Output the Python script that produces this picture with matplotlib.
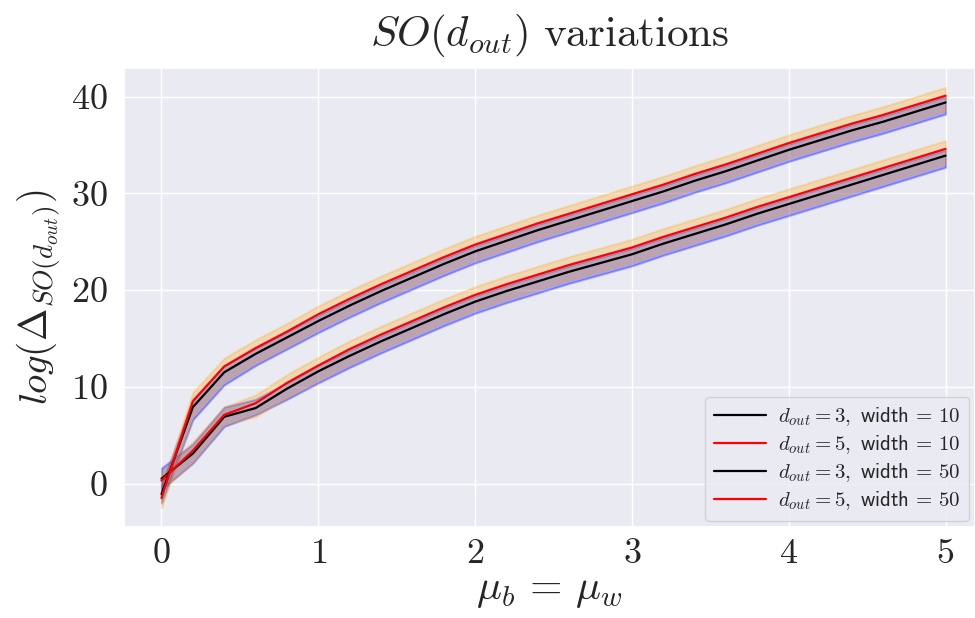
import numpy as np
import matplotlib
matplotlib.use("Agg")
import matplotlib.pyplot as plt
import seaborn as sns

sns.set_theme(style="darkgrid")
plt.rcParams['mathtext.fontset'] = 'cm'
plt.rcParams['font.family'] = ['cmr10', 'DejaVu Sans']
plt.rcParams['axes.formatter.use_mathtext'] = True

mu = [0.0, 0.2, 0.4, 0.6, 0.8, 1.0, 1.2, 1.4, 1.6, 1.8, 2.0, 2.2, 2.4,
      2.6, 2.8, 3.0, 3.2, 3.4, 3.6, 3.8, 4.0, 4.2, 4.4, 4.6, 4.8, 5.0]

# width = 10 (lower pair)
d3_w10 = [0.5, 3.1, 6.9, 7.8, 9.8, 11.6, 13.2, 14.7, 16.1, 17.5, 18.8, 19.9, 20.9,
          21.9, 22.8, 23.7, 24.8, 25.8, 26.8, 27.9, 28.9, 29.9, 30.9, 31.9, 32.9, 33.9]
d5_w10 = [0.3, 3.4, 7.1, 8.3, 10.4, 12.2, 13.9, 15.4, 16.8, 18.2, 19.5, 20.6, 21.6,
          22.6, 23.5, 24.4, 25.5, 26.5, 27.5, 28.6, 29.6, 30.6, 31.6, 32.6, 33.6, 34.6]
# width = 50 (upper pair)
d3_w50 = [-1.1, 7.9, 11.5, 13.4, 15.1, 16.8, 18.4, 19.9, 21.3, 22.7, 24.0, 25.1, 26.2,
          27.2, 28.2, 29.2, 30.2, 31.3, 32.3, 33.4, 34.5, 35.5, 36.5, 37.4, 38.4, 39.4]
d5_w50 = [-1.5, 8.5, 12.1, 14.0, 15.7, 17.5, 19.1, 20.6, 22.0, 23.4, 24.7, 25.8, 26.9,
          27.9, 28.9, 29.9, 30.9, 32.0, 33.0, 34.1, 35.2, 36.2, 37.2, 38.1, 39.1, 40.1]

# spread below / above each mean curve
lo_d3_w10 = [1.1, 1.0, 1.0, 0.7, 1.1, 1.2, 1.2, 1.2, 1.2, 1.2, 1.2, 1.2, 1.2,
             1.2, 1.2, 1.2, 1.2, 1.2, 1.2, 1.2, 1.2, 1.2, 1.2, 1.2, 1.2, 1.2]
hi_d3_w10 = [1.1, 1.0, 1.0, 0.9, 0.6, 0.6, 0.6, 0.6, 0.6, 0.6, 0.6, 0.6, 0.6,
             0.6, 0.6, 0.6, 0.6, 0.6, 0.6, 0.6, 0.6, 0.6, 0.6, 0.6, 0.6, 0.6]
lo_d5_w10 = [1.0, 1.2, 1.0, 1.4, 1.5, 1.5, 1.5, 1.5, 1.5, 1.5, 1.5, 1.5, 1.5,
             1.5, 1.5, 1.5, 1.5, 1.5, 1.5, 1.5, 1.5, 1.5, 1.5, 1.5, 1.5, 1.5]
hi_d5_w10 = [0.9, 0.9, 0.8, 0.85, 0.85, 0.85, 0.85, 0.85, 0.85, 0.85, 0.85, 0.85, 0.85,
             0.85, 0.85, 0.85, 0.85, 0.85, 0.85, 0.85, 0.85, 0.85, 0.85, 0.85, 0.85, 0.85]
lo_d3_w50 = [0.9, 1.3, 1.3, 1.2, 1.2, 1.2, 1.2, 1.2, 1.2, 1.2, 1.2, 1.2, 1.2,
             1.2, 1.2, 1.2, 1.2, 1.2, 1.2, 1.2, 1.2, 1.2, 1.2, 1.2, 1.2, 1.2]
hi_d3_w50 = [0.9, 0.8, 0.7, 0.6, 0.6, 0.6, 0.6, 0.6, 0.6, 0.6, 0.6, 0.6, 0.6,
             0.6, 0.6, 0.6, 0.6, 0.6, 0.6, 0.6, 0.6, 0.6, 0.6, 0.6, 0.6, 0.6]
lo_d5_w50 = [1.0, 1.5, 1.5, 1.5, 1.5, 1.5, 1.5, 1.5, 1.5, 1.5, 1.5, 1.5, 1.5,
             1.5, 1.5, 1.5, 1.5, 1.5, 1.5, 1.5, 1.5, 1.5, 1.5, 1.5, 1.5, 1.5]
hi_d5_w50 = [1.0, 0.9, 0.85, 0.85, 0.85, 0.85, 0.85, 0.85, 0.85, 0.85, 0.85, 0.85, 0.85,
             0.85, 0.85, 0.85, 0.85, 0.85, 0.85, 0.85, 0.85, 0.85, 0.85, 0.85, 0.85, 0.85]

series = [
    (d3_w10, lo_d3_w10, hi_d3_w10, 'black', 'blue', 0.3, r'$d_{out} = 3,\ \mathsf{width}\, =\, 10$'),
    (d5_w10, lo_d5_w10, hi_d5_w10, 'red', 'orange', 0.26, r'$d_{out} = 5,\ \mathsf{width}\, =\, 10$'),
    (d3_w50, lo_d3_w50, hi_d3_w50, 'black', 'blue', 0.3, r'$d_{out} = 3,\ \mathsf{width}\, =\, 50$'),
    (d5_w50, lo_d5_w50, hi_d5_w50, 'red', 'orange', 0.26, r'$d_{out} = 5,\ \mathsf{width}\, =\, 50$'),
]

fig = plt.figure(figsize=(9.75, 6.18), dpi=100)
ax = fig.add_axes([0.1272, 0.1472, 0.8728, 0.7427])

x = np.array(mu)
for vals, lo, hi, lc, fc, a, lab in series:
    v = np.array(vals)
    ax.fill_between(x, v - np.array(lo), v + np.array(hi), color=fc, alpha=a,
                    lw=1.5, zorder=1)
for vals, lo, hi, lc, fc, a, lab in series:
    ax.plot(x, vals, color=lc, lw=1.6, label=lab, zorder=3)

ax.set_xlim(-0.239, 5.188)
ax.set_ylim(-4.5, 42.96)
ax.set_xticks([0, 1, 2, 3, 4, 5])
ax.set_yticks([0, 10, 20, 30, 40])
ax.tick_params(labelsize=26)
ax.tick_params(axis='x', pad=2)
ax.tick_params(axis='y', pad=6)

ax.set_title(r'$SO(d_{out})\ \mathrm{variations}$', fontsize=31, pad=16)
ax.set_xlabel(r'$\mu_b \,=\, \mu_w$', fontsize=30, labelpad=2)
ax.set_ylabel(r'$log(\Delta_{SO(d_{out})})$', fontsize=28, labelpad=6)

ax.legend(loc='lower right', prop={'size': 15}, labelspacing=0.25,
          borderaxespad=0.3, handlelength=2.5, handletextpad=0.6)

plt.savefig('out.png', dpi=100)
